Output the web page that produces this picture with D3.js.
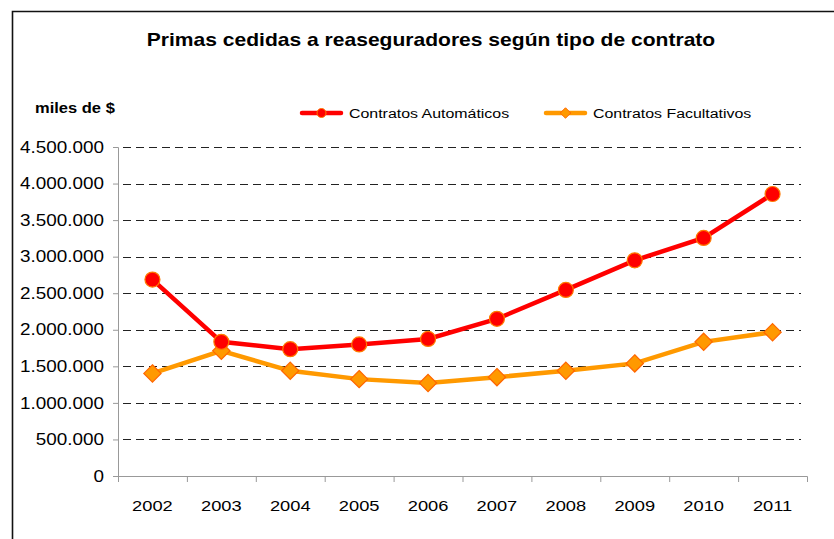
<!DOCTYPE html>
<html>
<head>
<meta charset="utf-8">
<script src="https://cdn.jsdelivr.net/npm/d3@7"></script>
<style>
  body { margin: 0; background: #fff; }
  text { font-family: "Liberation Sans", Arial, sans-serif; fill: #000; }
</style>
</head>
<body>
<div id="chart"></div>
<script>
var years = ["2002","2003","2004","2005","2006","2007","2008","2009","2010","2011"]
var automaticos = [2687000, 1835000, 1735000, 1800000, 1875000, 2150000, 2545000, 2950000, 3256000, 3857000]
var facultativos = [1403000, 1712000, 1439000, 1325000, 1272000, 1352000, 1439000, 1540000, 1835000, 1967000]
var yTicks = [0, 500000, 1000000, 1500000, 2000000, 2500000, 3000000, 3500000, 4000000, 4500000]

var width = 834, height = 539
var margin = {top: 147, right: 27, bottom: 63, left: 118}
var plotW = width - margin.left - margin.right,
    plotH = height - margin.top - margin.bottom
var SX = 1.18  // the original text is a little wide

var svg = d3.select("#chart").append("svg")
  .attr("width", width)
  .attr("height", height)

// stretch text horizontally keeping its anchor point
function stretch(sel, s) {
  sel.each(function() {
    var t = d3.select(this)
    var x0 = +t.attr("x") || 0
    t.attr("x", x0 / s).attr("transform", "scale(" + s + ",1)")
  })
}

// outer frame (top + left edges visible)
svg.append("path")
  .attr("d", "M12.5,539 L12.5,11.5 L834,11.5")
  .attr("fill", "none")
  .attr("stroke", "#111")
  .attr("stroke-width", 1.6)

svg.append("text")
  .attr("x", 431).attr("y", 46)
  .attr("text-anchor", "middle")
  .style("font-size", "18px").style("font-weight", "bold")
  .text("Primas cedidas a reaseguradores según tipo de contrato")
  .call(stretch, 1.17)

svg.append("text")
  .attr("x", 35).attr("y", 113)
  .style("font-size", "14px").style("font-weight", "bold")
  .text("miles de $")
  .call(stretch, SX)

var x = d3.scaleBand().domain(years).range([0, plotW])
var y = d3.scaleLinear().domain([0, 4500000]).range([plotH, 0])

var fmt = function(d) { return d3.format(",")(d).replace(/,/g, ".") }

var g = svg.append("g")
  .attr("transform", "translate(" + margin.left + "," + margin.top + ")")

// dashed gridlines
g.selectAll(".grid")
  .data(yTicks.filter(function(d) { return d > 0 }))
  .enter().append("line")
  .attr("x1", 0).attr("x2", plotW - 6)
  .attr("y1", function(d) { return Math.round(y(d)) + 0.5 })
  .attr("y2", function(d) { return Math.round(y(d)) + 0.5 })
  .attr("stroke", "#222")
  .attr("stroke-width", 1)
  .attr("stroke-dasharray", "8,5")
  .attr("stroke-dashoffset", -5)

var yAxis = g.append("g")
  .call(d3.axisLeft(y).tickValues(yTicks).tickSize(5).tickPadding(9).tickFormat(fmt))
yAxis.select(".domain").attr("stroke", "#999")
yAxis.selectAll(".tick line").attr("stroke", "#999")
yAxis.selectAll("text").style("font-size", "16px").attr("fill", "#000").call(stretch, SX)

var xAxis = g.append("g")
  .attr("transform", "translate(0," + plotH + ")")
  .call(d3.axisBottom(x).tickSize(0).tickPadding(24))
xAxis.select(".domain").attr("stroke", "#999").attr("d", "M0.5,6V0.5H" + (plotW + 0.5) + "V6")
xAxis.selectAll("text").style("font-size", "15.5px").attr("fill", "#000").call(stretch, SX)
g.selectAll(".xtick")
  .data(years)
  .enter().append("line")
  .attr("x1", function(d) { return x(d) + 0.5 })
  .attr("x2", function(d) { return x(d) + 0.5 })
  .attr("y1", plotH).attr("y2", plotH + 6)
  .attr("stroke", "#999")

var cx = function(d, i) { return x(years[i]) + x.bandwidth() / 2 }
var line = d3.line().x(cx).y(function(d) { return y(d) })

g.append("path")
  .datum(facultativos)
  .attr("d", line)
  .attr("fill", "none")
  .attr("stroke", "#FF9900")
  .attr("stroke-width", 4.5)

g.append("path")
  .datum(automaticos)
  .attr("d", line)
  .attr("fill", "none")
  .attr("stroke", "#FF0000")
  .attr("stroke-width", 4.5)

var diamond = d3.symbol().type(d3.symbolDiamond2).size(190)

g.selectAll(".fac")
  .data(facultativos)
  .enter().append("path")
  .attr("d", diamond)
  .attr("transform", function(d, i) { return "translate(" + cx(d, i) + "," + y(d) + ")" })
  .attr("fill", "#FF9900")
  .attr("stroke", "#FF6600")
  .attr("stroke-width", 1.2)

g.selectAll(".aut")
  .data(automaticos)
  .enter().append("circle")
  .attr("cx", cx)
  .attr("cy", function(d) { return y(d) })
  .attr("r", 7.5)
  .attr("fill", "#FF0000")
  .attr("stroke", "#FF7A00")
  .attr("stroke-width", 1.2)

// legend
var legend = [
  {name: "Contratos Automáticos", color: "#FF0000", x: 302, type: "circle"},
  {name: "Contratos Facultativos", color: "#FF9900", x: 546, type: "diamond"}
]
var lg = svg.selectAll(".legend")
  .data(legend)
  .enter().append("g")
  .attr("transform", function(d) { return "translate(" + d.x + ",113)" })
lg.append("line")
  .attr("x1", 0).attr("x2", 39)
  .attr("stroke", function(d) { return d.color })
  .attr("stroke-width", 4.5)
  .attr("stroke-linecap", "round")
lg.each(function(d) {
  var s = d3.select(this)
  if (d.type === "circle") {
    s.append("circle").attr("cx", 19.5).attr("r", 4.5)
      .attr("fill", "#FF0000").attr("stroke", "#FF7A00").attr("stroke-width", 1)
  } else {
    s.append("path").attr("d", d3.symbol().type(d3.symbolDiamond2).size(70))
      .attr("transform", "translate(19.5,0)")
      .attr("fill", "#FF9900").attr("stroke", "#FF6600").attr("stroke-width", 1)
  }
})
lg.append("text")
  .attr("x", 47).attr("y", 5)
  .style("font-size", "13.5px")
  .text(function(d) { return d.name })
  .call(stretch, SX)
</script>
</body>
</html>
